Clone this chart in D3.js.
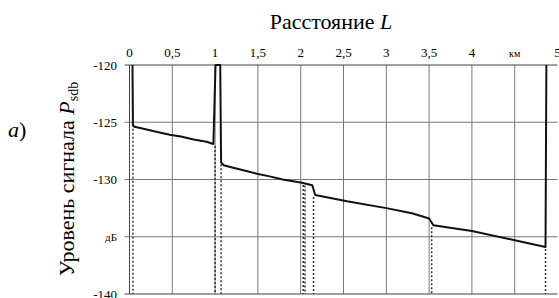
<!DOCTYPE html>
<html>
<head>
<meta charset="utf-8">
<script src="https://cdn.jsdelivr.net/npm/d3@7"></script>
<style>
  body { margin: 0; background: #fff; }
</style>
</head>
<body>
<svg width="559" height="298"></svg>
<script>
// trace (km, dB)
const traceKm = [0.035, 0.04, 0.06, 0.15, 0.3, 0.47, 0.6, 0.75, 0.9, 0.98, 1.005, 1.06, 1.07, 1.1, 1.2, 1.33, 1.49, 1.65, 1.79, 2.03, 2.05, 2.135, 2.17, 2.54, 3.0, 3.3, 3.5, 3.55, 4.0, 4.5, 4.86, 4.87];
const traceDb = [-120, -125.3, -125.4, -125.55, -125.8, -126.1, -126.25, -126.5, -126.7, -126.9, -120, -120, -128.5, -128.75, -128.95, -129.2, -129.5, -129.75, -130.0, -130.3, -130.35, -130.5, -131.35, -131.9, -132.5, -132.95, -133.4, -134.0, -134.5, -135.3, -135.9, -120];

// event markers (dotted drops to the axis)
const eventKm = [0.04, 1.0, 1.07, 2.03, 2.05, 2.15, 3.53, 4.86];
const eventDb = [-125.4, -126.9, -128.5, -130.3, -130.35, -131.35, -134.0, -135.9];

const xTicks = [0, 0.5, 1, 1.5, 2, 2.5, 3, 3.5, 4, 4.5, 5];
const xTickLabels = ["0", "0,5", "1", "1,5", "2", "2,5", "3", "3,5", "4", "км", "5"];
const yTicks = [-120, -125, -130, -135, -140];
const yTickLabels = ["-120", "-125", "-130", "дБ", "-140"];

const serif = '"Liberation Serif"';
const svg = d3.select('svg');

const xScale = d3.scaleLinear().domain([0, 5]).range([129.5, 557.5]);
const yScale = d3.scaleLinear().domain([-120, -140]).range([65, 294]);

const grid = svg.append('g').classed('grid', true);

// vertical grid
grid.selectAll('line.v')
  .data(xTicks.filter(d => d > 0 && d < 5))
  .enter().append('line')
    .attr('x1', d => xScale(d)).attr('x2', d => xScale(d))
    .attr('y1', yScale(-120)).attr('y2', yScale(-140))
    .style('stroke', '#777').style('stroke-width', 1);

// horizontal grid with small outward ticks
grid.selectAll('line.h')
  .data(yTicks)
  .enter().append('line')
    .attr('x1', xScale(0) - 5).attr('x2', xScale(5))
    .attr('y1', d => yScale(d)).attr('y2', d => yScale(d))
    .style('stroke', d => (d === -120 || d === -140) ? '#444' : '#777')
    .style('stroke-width', 1);

// left axis line
svg.append('line')
  .attr('x1', xScale(0)).attr('x2', xScale(0))
  .attr('y1', yScale(-120)).attr('y2', yScale(-140))
  .style('stroke', '#444');

// top tick labels
svg.append('g').selectAll('text')
  .data(xTicks)
  .enter().append('text')
    .attr('x', d => xScale(d))
    .attr('y', 57)
    .attr('text-anchor', 'middle')
    .style('font-family', serif)
    .style('font-size', (d, i) => xTickLabels[i] === 'км' ? '10px' : '13px')
    .text((d, i) => xTickLabels[i]);

// left tick labels
svg.append('g').selectAll('text')
  .data(yTicks)
  .enter().append('text')
    .attr('x', 117)
    .attr('y', d => yScale(d))
    .attr('dy', '0.35em')
    .attr('text-anchor', 'end')
    .style('font-family', serif)
    .style('font-size', (d, i) => yTickLabels[i] === 'дБ' ? '11px' : '13px')
    .text((d, i) => yTickLabels[i]);

// dotted event lines
svg.append('g').selectAll('line')
  .data(eventKm)
  .enter().append('line')
    .attr('x1', d => xScale(d)).attr('x2', d => xScale(d))
    .attr('y1', (d, i) => yScale(eventDb[i]) + 2)
    .attr('y2', yScale(-140))
    .style('stroke', '#333')
    .style('stroke-width', 1.5)
    .style('stroke-dasharray', '2,2');

// trace
const line = d3.line()
  .x((d, i) => xScale(traceKm[i]))
  .y(d => yScale(d));

svg.append('path')
  .datum(traceDb)
  .attr('d', line)
  .style('fill', 'none')
  .style('stroke', '#111')
  .style('stroke-width', 2)
  .style('stroke-linejoin', 'round');

// titles
const title = svg.append('text')
  .attr('x', 331)
  .attr('y', 29)
  .attr('text-anchor', 'middle')
  .style('font-family', serif)
  .style('font-size', '22px');
title.append('tspan').text('Расстояние ');
title.append('tspan').style('font-style', 'italic').text('L');

const yLabel = svg.append('text')
  .attr('transform', 'translate(74, 179) rotate(-90)')
  .attr('text-anchor', 'middle')
  .style('font-family', serif)
  .style('font-size', '22px');
yLabel.append('tspan').text('Уровень сигнала ');
yLabel.append('tspan').style('font-style', 'italic').text('P');
yLabel.append('tspan').attr('dy', '0.3em').style('font-size', '14px').text('sdb');

const panel = svg.append('text')
  .attr('x', 8)
  .attr('y', 137)
  .style('font-family', serif)
  .style('font-size', '22px');
panel.append('tspan').style('font-style', 'italic').text('а');
panel.append('tspan').text(')');
</script>
</body>
</html>
